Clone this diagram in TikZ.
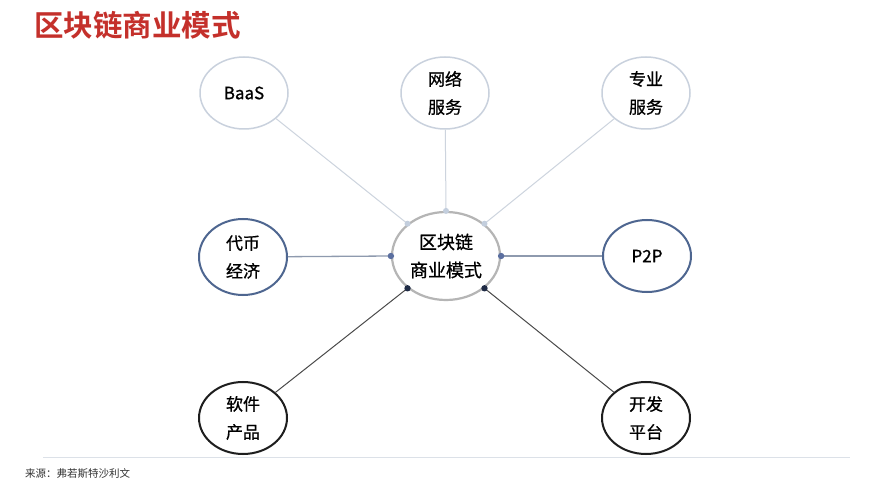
\documentclass[tikz,border=0pt]{standalone}
\usepackage{fontspec}
\setmainfont{Noto Sans CJK SC}
\newfontfamily\nodefont[FakeBold=0.9]{Noto Sans CJK SC}
\newfontfamily\titlefont{Noto Sans CJK SC Bold}
\usetikzlibrary{shapes.geometric}
\definecolor{titlered}{HTML}{C4302B}
\definecolor{lightB}{HTML}{C9D1DD}
\definecolor{lightL}{HTML}{CDD4DE}
\definecolor{lightD}{HTML}{C3CEDD}
\definecolor{midB}{HTML}{4E6690}
\definecolor{midL}{HTML}{8E9AAE}
\definecolor{midD}{HTML}{5B6FA0}
\definecolor{darkB}{HTML}{1E1E1E}
\definecolor{darkL}{HTML}{4A4A4A}
\definecolor{darkD}{HTML}{1F2B45}
\definecolor{centB}{HTML}{B5B5B5}
\definecolor{srcline}{HTML}{DCE1E8}
\definecolor{srctext}{HTML}{333333}
\tikzset{
  ell/.style={ellipse, draw, fill=white, line width=1.5bp, minimum width=88bp, minimum height=72bp, inner sep=0pt, align=center, text=black, font=\nodefont\fontsize{17bp}{28bp}\selectfont},
  lightE/.style={ell, draw=lightB},
  midE/.style={ell, draw=midB, line width=2bp},
  darkE/.style={ell, draw=darkB, line width=2bp},
  centE/.style={ell, draw=centB, line width=2.2bp, minimum width=108bp, minimum height=88bp, font=\nodefont\fontsize{18bp}{28bp}\selectfont},
  lineL/.style={draw=lightL, line width=1bp},
  lineM/.style={draw=midL, line width=1.3bp},
  lineD/.style={draw=darkL, line width=1bp},
}
\begin{document}
\begin{tikzpicture}[x=1bp,y=-1bp]
\useasboundingbox (0,0) rectangle (889,500);
\fill[white] (0,0) rectangle (889,500);

% title
\node[anchor=west, inner sep=0pt, text=titlered, font=\titlefont\fontsize{29.5bp}{31bp}\selectfont] (title) at (34,25) {区块链商业模式};

% nodes
\node[centE] (c) at (446,256) {区块链\\商业模式};
\node[lightE] (baas) at (244,93) {BaaS};
\node[lightE] (net) at (445,93) {网络\\服务};
\node[lightE] (pro) at (646,93) {专业\\服务};
\node[midE, minimum height=76bp] (coin) at (243,257) {代币\\经济};
\node[midE] (p2p) at (647,256) {P2P};
\node[darkE] (soft) at (243,418) {软件\\产品};
\node[darkE] (dev) at (646,418) {开发\\平台};

% attachment points on the centre ellipse
\coordinate (pT) at (c.north);
\coordinate (pTL) at (c.140);
\coordinate (pTR) at (c.40);
\coordinate (pL) at (c.west);
\coordinate (pR) at (c.east);
\coordinate (pBL) at (c.220);
\coordinate (pBR) at (c.320);

% connectors
\path[lineL] (pTL) -- (baas);
\path[lineL] (pT) -- (net);
\path[lineL] (pTR) -- (pro);
\path[lineM] (pL) -- (coin);
\path[lineM] (pR) -- (p2p);
\path[lineD] (pBL) -- (soft);
\path[lineD] (pBR) -- (dev);

% dots
\fill[lightD] (pT) circle (3bp);
\fill[lightD] (pTL) circle (3bp);
\fill[lightD] (pTR) circle (3bp);
\fill[midD] (pL) circle (3.2bp);
\fill[midD] (pR) circle (3.2bp);
\fill[darkD] (pBL) circle (3.2bp);
\fill[darkD] (pBR) circle (3.2bp);

% source
\coordinate (sl) at (43,457);
\coordinate (sr) at (850,457);
\draw[srcline, line width=1bp] (sl) -- (sr);
\node[anchor=west, inner sep=0pt, text=srctext, font=\fontsize{10.5bp}{12bp}\selectfont] (src) at (25,474) {来源：弗若斯特沙利文};
\end{tikzpicture}
\end{document}
